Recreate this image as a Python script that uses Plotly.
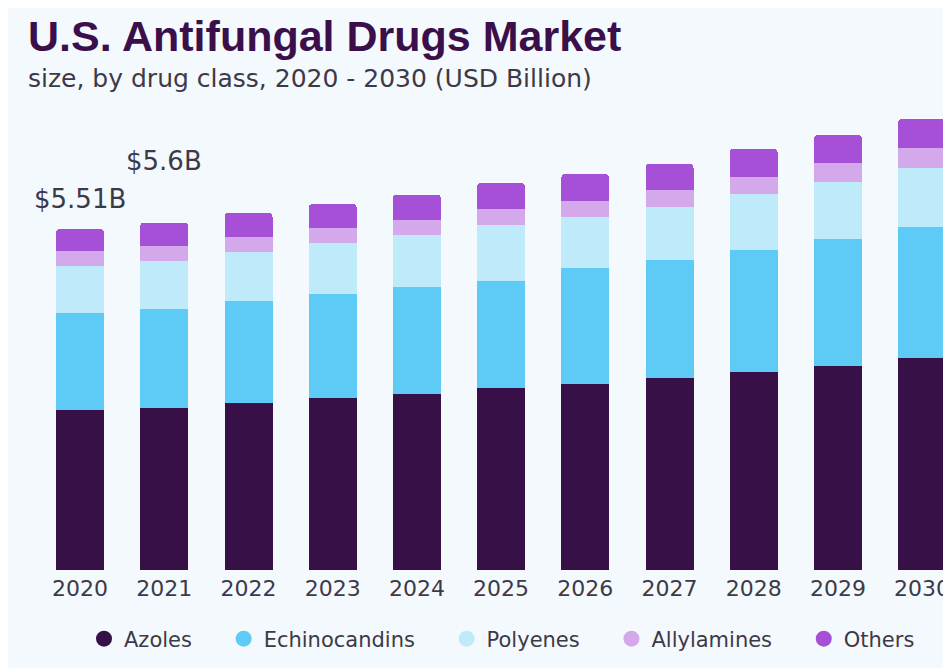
import plotly.graph_objects as go

years = ["2020", "2021", "2022", "2023", "2024", "2025", "2026", "2027", "2028", "2029", "2030"]
azoles = [2.585, 2.620, 2.704, 2.779, 2.844, 2.936, 3.006, 3.098, 3.195, 3.302, 3.431]
echinocandins = [1.572, 1.600, 1.648, 1.681, 1.724, 1.739, 1.870, 1.907, 1.977, 2.048, 2.117]
polyenes = [0.755, 0.780, 0.782, 0.829, 0.850, 0.905, 0.829, 0.861, 0.900, 0.916, 0.944]
allylamines = [0.242, 0.237, 0.252, 0.237, 0.237, 0.259, 0.263, 0.270, 0.284, 0.307, 0.323]
others = [0.356, 0.377, 0.388, 0.388, 0.409, 0.410, 0.427, 0.430, 0.448, 0.453, 0.474]
label_years = ["2020", "2021"]
label_texts = ["$5.51B", "$5.6B"]
label_shifts = [13, 45]

series = [
    ("Azoles", azoles, "#371048"),
    ("Echinocandins", echinocandins, "#5ecbf6"),
    ("Polyenes", polyenes, "#beeafa"),
    ("Allylamines", allylamines, "#d4a9ec"),
    ("Others", others, "#a550d6"),
]

FONT = "DejaVu Sans"
TEXT = "#3d3a47"
BG = "#f4f9fd"

L, R, T, B = 30, 0, 92, 106
W_PLOT = 951 - L - R
H_PLOT = 668 - T - B
PX_PER_B = 341 / 5.51
PITCH = 84.2

def px_x(p):
    return (p - L) / W_PLOT

def px_y(p):
    return (668 - B - p) / H_PLOT

fig = go.Figure()
for name, vals, col in series:
    fig.add_trace(go.Bar(x=years, y=vals, name=name, marker=dict(color=col, line=dict(width=0)),
                         showlegend=False, hoverinfo="x+y+name"))
for name, vals, col in series:
    fig.add_trace(go.Scatter(x=[None], y=[None], mode="markers", name=name + "\u00a0\u00a0\u00a0\u00a0",
                             marker=dict(color=col, size=18, symbol="circle"), showlegend=True))

totals = [sum(s[1][i] for s in series) for i in range(len(years))]
annotations = []
for yr, txt, sh in zip(label_years, label_texts, label_shifts):
    i = years.index(yr)
    annotations.append(dict(x=i, y=totals[i], xref="x", yref="y", text=txt, showarrow=False,
                            yanchor="bottom", xanchor="center", yshift=sh,
                            font=dict(family=FONT, size=26, color=TEXT)))
annotations.append(dict(x=px_x(18), y=px_y(28), xref="paper", yref="paper", xanchor="left", yanchor="middle",
                        text="<b>U.S. Antifungal Drugs Market</b>", showarrow=False,
                        font=dict(family="Liberation Sans", size=43, color="#3a0f4a")))
annotations.append(dict(x=px_x(18), y=px_y(70), xref="paper", yref="paper", xanchor="left", yanchor="middle",
                        text="size, by drug class, 2020 - 2030 (USD Billion)", showarrow=False,
                        font=dict(family=FONT, size=25, color=TEXT)))

fig.update_layout(
    width=951, height=668,
    margin=dict(l=L, r=R, t=T, b=B, autoexpand=False),
    paper_bgcolor=BG, plot_bgcolor="rgba(0,0,0,0)",
    barmode="stack", bargap=0.43, barcornerradius=4,
    xaxis=dict(type="category", range=[-0.5, -0.5 + W_PLOT / PITCH], showgrid=False, zeroline=False,
               showline=False, ticks="", automargin=False, ticklabelstandoff=3,
               tickfont=dict(family=FONT, size=22, color=TEXT)),
    yaxis=dict(range=[0, H_PLOT / PX_PER_B], visible=False, automargin=False),
    legend=dict(orientation="h", x=px_x(76), xanchor="left", y=px_y(631), yanchor="middle",
                font=dict(family=FONT, size=21, color=TEXT), bgcolor="rgba(0,0,0,0)",
                traceorder="normal", itemclick=False),
    annotations=annotations,
    showlegend=True,
)

fig.write_html("out.html")
